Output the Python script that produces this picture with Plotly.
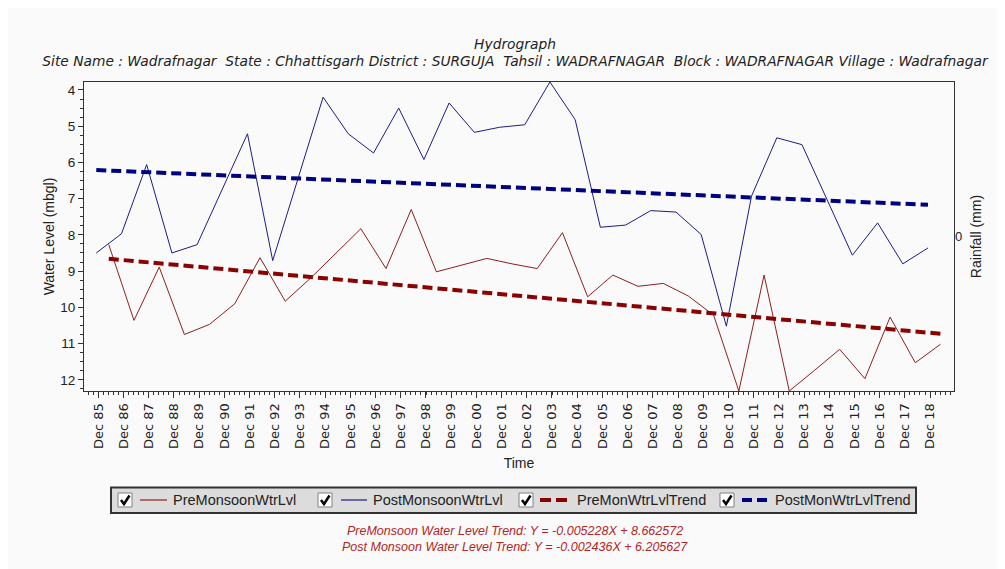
import plotly.graph_objects as go

# ---------------- data ----------------
post_years = list(range(1985, 2019))          # post-monsoon readings (Nov)
post_level = [8.50, 7.97, 6.06, 8.50, 8.27, 6.73, 5.21, 8.71, 6.46, 4.20,
              5.21, 5.74, 4.50, 5.92, 4.36, 5.17, 5.03, 4.96, 3.78, 4.82,
              7.79, 7.73, 7.33, 7.37, 7.99, 10.52, 6.93, 5.32, 5.51, 7.02,
              8.56, 7.67, 8.80, 8.36]

pre_years = list(range(1986, 2020))           # pre-monsoon readings (May)
pre_level = [8.27, 10.36, 8.89, 10.75, 10.47, 9.90, 8.63, 9.83, 9.20, 8.52,
             7.83, 8.93, 7.30, 9.02, 8.84, 8.65, 8.80, 8.93, 7.94, 9.71,
             9.11, 9.42, 9.34, 9.69, 10.22, 12.31, 9.11, 12.31, 11.74, 11.16,
             11.97, 10.27, 11.53, 11.02]

pre_trend_dates = ["1986-05-01", "2019-05-01"]
pre_trend_vals = [8.66, 10.73]
post_trend_dates = ["1985-11-01", "2018-11-01"]
post_trend_vals = [6.21, 7.17]

legend_names = ["PreMonsoonWtrLvl", "PostMonsoonWtrLvl",
                "PreMonWtrLvlTrend", "PostMonWtrLvlTrend"]
title_text = "Hydrograph"
subtitle_text = ("Site Name : Wadrafnagar\u00a0\u00a0State : Chhattisgarh District : SURGUJA"
                 "\u00a0\u00a0Tahsil : WADRAFNAGAR\u00a0\u00a0Block : WADRAFNAGAR Village : Wadrafnagar")
eq_lines = ["PreMonsoon Water Level Trend: Y = -0.005228X + 8.662572",
            "Post Monsoon Water Level Trend: Y = -0.002436X + 6.205627"]

# ---------------- styling ----------------
FONT = "Liberation Sans, Arial, sans-serif"
WFONT = "DejaVu Sans, Verdana, sans-serif"
PRE_C = "#8e1e1e"
POST_C = "#1c1c86"
PRE_T = "#8b0000"
POST_T = "#000080"
BG = "#fafafa"
TXT = "#222222"

post_dates = [f"{y}-11-01" for y in post_years]
pre_dates = [f"{y}-05-01" for y in pre_years]

fig = go.Figure()
fig.add_trace(go.Scatter(x=pre_dates, y=pre_level, mode="lines", name=legend_names[0],
                         line=dict(color=PRE_C, width=1)))
fig.add_trace(go.Scatter(x=post_dates, y=post_level, mode="lines", name=legend_names[1],
                         line=dict(color=POST_C, width=1)))
fig.add_trace(go.Scatter(x=pre_trend_dates, y=pre_trend_vals, mode="lines", name=legend_names[2],
                         line=dict(color=PRE_T, width=4, dash="10px,5px")))
fig.add_trace(go.Scatter(x=post_trend_dates, y=post_trend_vals, mode="lines", name=legend_names[3],
                         line=dict(color=POST_T, width=4, dash="10px,5px")))
# rainfall axis (no data)
fig.add_trace(go.Scatter(x=[], y=[], yaxis="y2", showlegend=False, hoverinfo="skip"))

# the page body has an 8px margin: the figure starts at screen (8, 8)
OFF = 8
SW, SH = 1005, 569
W, H = SW - OFF, SH - OFF
L, R, T, B = 84, 954, 82, 391      # plot area in screen pixels


def px(x):
    return (x - L) / (R - L)


def py(y):
    return (B - y) / (B - T)


shapes = []
annotations = []

# manual legend box
shapes.append(dict(type="rect", xref="paper", yref="paper",
                   x0=px(111), x1=px(916), y0=py(513), y1=py(487.5),
                   line=dict(color="#333333", width=2), fillcolor="#dcdcdc", layer="above"))
items = [
    (118, 140, 167, 173, PRE_C, False),
    (318, 341, 367, 373, POST_C, False),
    (519, 540, 567, 577, PRE_T, True),
    (720, 742, 767, 775, POST_T, True),
]
cy = 500
for (cb, l0, l1, tx, col, dashed), name in zip(items, legend_names):
    shapes.append(dict(type="rect", xref="paper", yref="paper",
                       x0=px(cb), x1=px(cb + 14), y0=py(cy + 7), y1=py(cy - 7),
                       line=dict(color="#808080", width=1), fillcolor="white", layer="above"))
    shapes.append(dict(type="path", xref="paper", yref="paper",
                       path=f"M {px(cb + 3)},{py(cy)} L {px(cb + 6)},{py(cy + 4)} L {px(cb + 11.5)},{py(cy - 4.5)}",
                       line=dict(color="black", width=2.5), layer="above"))
    if dashed:
        mid = (l0 + l1) / 2
        for a, b in [(l0, mid - 2.5), (mid + 2.5, l1)]:
            shapes.append(dict(type="line", xref="paper", yref="paper",
                               x0=px(a), x1=px(b), y0=py(cy), y1=py(cy),
                               line=dict(color=col, width=4), layer="above"))
    else:
        shapes.append(dict(type="line", xref="paper", yref="paper",
                           x0=px(l0), x1=px(l1), y0=py(cy), y1=py(cy),
                           line=dict(color=col, width=1.2), layer="above"))
    annotations.append(dict(text=name, xref="paper", yref="paper", x=px(tx - 2), y=py(cy),
                            xanchor="left", yanchor="middle", showarrow=False,
                            font=dict(family=FONT, size=14.5, color=TXT)))

for txt, yy in zip(eq_lines, [531, 547]):
    annotations.append(dict(text=f"<i>{txt}</i>", xref="paper", yref="paper",
                            x=px(515), y=py(yy), xanchor="center", yanchor="middle",
                            showarrow=False, font=dict(family=FONT, size=12.5, color="#b52525")))

fig.update_layout(
    width=W, height=H, autosize=False,
    margin=dict(l=L - OFF, r=SW - R, t=T - OFF, b=SH - B),
    paper_bgcolor=BG, plot_bgcolor=BG,
    showlegend=False,
    title=dict(text=f"<i>{title_text}</i><br><i>{subtitle_text}</i>",
               x=(515 - OFF) / W, xanchor="center", xref="container",
               y=1 - (48.5 - OFF) / H, yanchor="middle", yref="container",
               font=dict(family=WFONT, size=13.8, color=TXT)),
    font=dict(family=FONT, color=TXT),
    xaxis=dict(type="date", range=["1985-05-07", "2019-11-13"],
               tick0="1985-12-01", dtick="M12", tickformat="%b %y", tickangle=-90,
               ticks="outside", ticklen=6, tickcolor="#333333",
               minor=dict(dtick=73.05 * 86400000, tick0="1985-12-01", ticks="outside",
                          ticklen=3, tickcolor="#333333", showgrid=False),
               showgrid=False, zeroline=False,
               showline=True, linecolor="#333333", linewidth=1, mirror=True,
               tickfont=dict(family=WFONT, size=13, color=TXT),
               title=dict(text="Time", font=dict(family=FONT, size=14, color=TXT),
                          standoff=10)),
    yaxis=dict(range=[12.31, 3.78], tickmode="linear", tick0=4, dtick=1,
               ticks="outside", ticklen=5, tickcolor="#333333",
               minor=dict(dtick=0.25, ticks="outside", ticklen=3, tickcolor="#333333",
                          showgrid=False),
               showgrid=False, zeroline=False,
               showline=True, linecolor="#333333", linewidth=1, mirror=True,
               tickfont=dict(family=FONT, size=13.5, color=TXT),
               title=dict(text="Water Level (mbgl)", font=dict(family=FONT, size=14, color=TXT),
                          standoff=2)),
    yaxis2=dict(overlaying="y", side="right", range=[-1, 1], tickvals=[0], ticktext=["0"],
                ticks="", showgrid=False, zeroline=False, showline=False,
                tickfont=dict(family=FONT, size=13, color=TXT),
                title=dict(text="Rainfall (mm)", font=dict(family=FONT, size=14, color=TXT),
                           standoff=9)),
    shapes=shapes,
    annotations=annotations,
)

fig.write_html("out.html")
